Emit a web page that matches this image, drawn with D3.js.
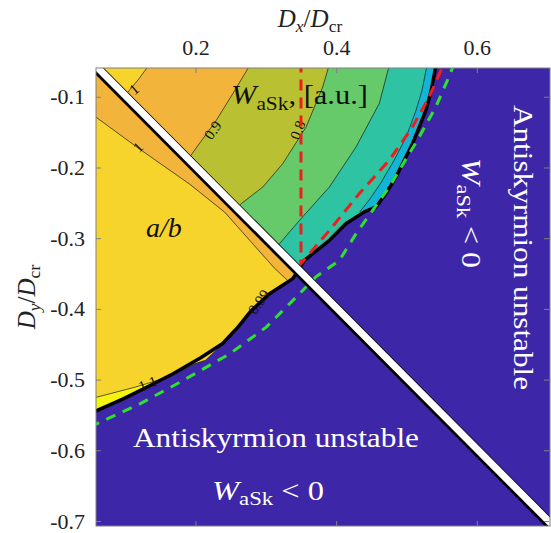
<!DOCTYPE html>
<html>
<head>
<meta charset="utf-8">
<script src="https://cdn.jsdelivr.net/npm/d3@7"></script>
<style>
body { margin: 0; background: #fff; }
svg { display: block; }
text { font-family: "Liberation Serif", "DejaVu Serif", serif; }
</style>
</head>
<body>
<svg id="chart" width="551" height="533"></svg>
<script>
// values, in units of D_cr
const xTicks = [0.2, 0.4, 0.6];
const yTicks = [-0.1, -0.2, -0.3, -0.4, -0.5, -0.6, -0.7];

// W_aSk contours (triangle above the Dy = -Dx line)
const wLevel1 = [[0.1352, -0.0537], [0.1182, -0.0763], [0.1040, -0.0933], [0.0898, -0.1103]];
const wLevel09 = [[0.2784, -0.0537], [0.2533, -0.0952], [0.2298, -0.1330], [0.1919, -0.1850], [0.1777, -0.2010]];
const wLevel08 = [[0.3905, -0.0537], [0.3810, -0.0858], [0.3574, -0.1425], [0.3243, -0.1943],
    [0.2959, -0.2275], [0.2652, -0.2510], [0.2487, -0.2676]];
const wLevel07 = [[0.4760, -0.0537], [0.4614, -0.1093], [0.4284, -0.1708], [0.3905, -0.2275],
    [0.3480, -0.2747], [0.3196, -0.3077], [0.3050, -0.3250]];
const wLevel06 = [[0.5295, -0.0537], [0.5222, -0.0905], [0.5137, -0.1188], [0.4996, -0.1567],
    [0.4825, -0.1897], [0.4630, -0.2227], [0.4467, -0.2463], [0.4335, -0.2629]];

// stability edge (thick black staircase)
const boundary = [
    [0.5423, -0.0537], [0.5348, -0.0929], [0.5277, -0.1188], [0.5182, -0.1425], [0.5087, -0.1660],
    [0.4969, -0.1897], [0.4851, -0.2133], [0.4709, -0.2368], [0.4567, -0.2558], [0.4401, -0.2629],
    [0.4142, -0.2793], [0.3905, -0.3030], [0.3668, -0.3218], [0.3550, -0.3313], [0.3479, -0.3426],
    [0.3384, -0.3572], [0.3053, -0.3785], [0.2784, -0.4035], [0.2614, -0.4248], [0.2387, -0.4489],
    [0.2075, -0.4690], [0.1682, -0.4918], [0.1305, -0.5108], [0.0973, -0.5272], [0.0596, -0.5438],
    [0.0501, -0.5480]];

// a/b contours (triangle below the Dy = -Dx line)
const abLevel1 = [[0.05, -0.122], [0.0586, -0.1288], [0.1167, -0.1712], [0.1919, -0.2237], [0.2416, -0.2633],
    [0.2770, -0.3030], [0.3125, -0.3426], [0.3338, -0.3625]];
const abLevel11 = [[0.05, -0.527], [0.0596, -0.5249], [0.1139, -0.5108], [0.1611, -0.4966], [0.1990, -0.4776],
    [0.2132, -0.4729]];

// dashed guides
const redGuide = [[0.35, -0.05], [0.35, -0.336], [0.3905, -0.2889], [0.4330, -0.2368], [0.4756, -0.1897],
    [0.5087, -0.1425], [0.5323, -0.1000], [0.5535, -0.053]];
const greenGuide = [[0.05, -0.567], [0.0594, -0.5626], [0.1210, -0.5343], [0.1824, -0.5013], [0.2487, -0.4635],
    [0.3007, -0.4258], [0.3433, -0.3833], [0.3716, -0.3544], [0.4047, -0.3313], [0.4284, -0.2935],
    [0.4756, -0.2275], [0.5182, -0.1567], [0.5418, -0.1142], [0.5583, -0.0765], [0.568, -0.053]];

// contour labels: text, Dx, Dy, angle
const clabels = [
    ['1', 0.1126, -0.0892, -40], ['0.9', 0.2245, -0.1472, -55], ['0.8', 0.3451, -0.1472, -68],
    ['1', 0.1182, -0.1712, -45], ['1.1', 0.1323, -0.5056, -22], ['0.99', 0.2900, -0.3900, -55]
];

const xDomain = [0.0586, 0.7026];
const yDomain = [-0.7071, -0.0593];

let svg = d3.select('#chart');
let margin = { top: 68, left: 96, right: 1, bottom: 7 };
let width = 551 - margin.left - margin.right,
    height = 533 - margin.top - margin.bottom;

let x = d3.scaleLinear().domain(xDomain).range([margin.left, margin.left + width - 1]);
let y = d3.scaleLinear().domain(yDomain).range([margin.top + height, margin.top]);
let line = d3.line().x(d => x(d[0])).y(d => y(d[1]));

let x0 = xDomain[0] - 0.02, x1 = xDomain[1] + 0.02,
    yTop = yDomain[1] + 0.02, yBot = yDomain[0] - 0.02;

let defs = svg.append('defs');
defs.append('clipPath').attr('id', 'plot')
    .append('rect').attr('x', margin.left).attr('y', margin.top)
    .attr('width', width).attr('height', height);
defs.append('clipPath').attr('id', 'upper')
    .append('path').attr('d', line([[x0, yTop], [x1, yTop], [x1, -x1], [x0, -x0]]) + 'Z');
defs.append('clipPath').attr('id', 'lower')
    .append('path').attr('d', line([[x0, -x0], [x1, -x1], [x1, yBot], [x0, yBot]]) + 'Z');

let plot = svg.append('g').attr('clip-path', 'url(#plot)');
plot.append('rect').attr('x', margin.left).attr('y', margin.top)
    .attr('width', width).attr('height', height).style('fill', '#3e26a8');

// close a contour towards the top-left corner
let upperFill = pts => pts.concat([[x0, pts[pts.length - 1][1]], [x0, yTop], [pts[0][0], yTop]]);
let lowerFill = pts => [[x0, pts[0][1]]].concat(pts, [[pts[pts.length - 1][0], yTop], [x0, yTop]]);

let upper = plot.append('g').attr('clip-path', 'url(#upper)');
let upperBands = [
    [boundary.slice(0, 16), '#13b5d6'],
    [wLevel06.concat(boundary.slice(10, 16)), '#2ec3a2'],
    [wLevel07, '#66c96a'],
    [wLevel08, '#b9c133'],
    [wLevel09, '#f3b43c'],
    [wLevel1, '#f6d42b']
];
upperBands.forEach(b => {
    upper.append('path').attr('d', line(upperFill(b[0])) + 'Z').style('fill', b[1]);
});
[wLevel06, wLevel07, wLevel08, wLevel09, wLevel1].forEach(c => {
    upper.append('path').attr('d', line(c))
        .style('fill', 'none').style('stroke', '#1a1a1a').style('stroke-width', 0.7);
});

let lower = plot.append('g').attr('clip-path', 'url(#lower)');
let lowerBands = [
    [boundary.slice(13).reverse(), '#f5f410'],
    [abLevel11.concat(boundary.slice(13, 20).reverse()), '#f6d42b'],
    [abLevel1.concat(boundary.slice(13, 16).reverse()), '#f3b43c']
];
lowerBands.forEach(b => {
    lower.append('path').attr('d', line(lowerFill(b[0])) + 'Z').style('fill', b[1]);
});
[abLevel1, abLevel11].forEach(c => {
    lower.append('path').attr('d', line(c))
        .style('fill', 'none').style('stroke', '#1a1a1a').style('stroke-width', 0.7);
});

plot.append('path').attr('d', line(boundary))
    .style('fill', 'none').style('stroke', '#000').style('stroke-width', 3.5)
    .style('stroke-linejoin', 'round');

clabels.forEach(l => {
    plot.append('text').text(l[0])
        .attr('transform', `translate(${x(l[1])},${y(l[2])}) rotate(${l[3]})`)
        .attr('text-anchor', 'middle').attr('dy', '0.35em')
        .style('font-size', '15px').style('fill', '#111');
});

// dashed guides
plot.append('path').attr('d', line(greenGuide))
    .style('fill', 'none').style('stroke', '#2fe02f').style('stroke-width', 3)
    .style('stroke-dasharray', '10,8');
plot.append('path').attr('d', line(redGuide))
    .style('fill', 'none').style('stroke', '#f01d1d').style('stroke-width', 3)
    .style('stroke-dasharray', '11,7');

// |Dx| = |Dy| line
let diag = [[x0, -x0], [x1, -x1]];
plot.append('path').attr('d', line(diag))
    .style('stroke', '#000').style('stroke-width', 10.5);
plot.append('path').attr('d', line(diag)).attr('transform', 'translate(0.7,-0.7)')
    .style('stroke', '#fff').style('stroke-width', 7);

// math text with subscripts
let mathText = (g, parts, size, color) => {
    let t = g.append('text').style('font-size', size + 'px').style('fill', color);
    let shifted = false;
    parts.forEach(p => {
        let s = t.append('tspan').text(p.t)
            .style('font-style', p.it ? 'italic' : 'normal')
            .style('font-size', (p.sub ? size * 0.7 : size) + 'px');
        if (p.sub && !shifted) { s.attr('dy', size * 0.2); shifted = true; }
        if (!p.sub && shifted) { s.attr('dy', -size * 0.2); shifted = false; }
    });
    return t;
};

let wParts = [{ t: 'W', it: 1 }, { t: 'aSk', sub: 1 }];

mathText(plot, wParts.concat([{ t: ', [a.u.]' }]), 28, '#111')
    .attr('x', 231).attr('y', 104)
    .attr('textLength', 137).attr('lengthAdjust', 'spacingAndGlyphs');
mathText(plot, [{ t: 'a/b', it: 1 }], 28, '#111')
    .attr('x', 146).attr('y', 237);

plot.append('text').text('Antiskyrmion unstable')
    .attr('x', 133).attr('y', 447)
    .attr('textLength', 286).attr('lengthAdjust', 'spacingAndGlyphs')
    .style('font-size', '28px').style('fill', '#fff');
mathText(plot, wParts.concat([{ t: ' < 0' }]), 27, '#fff')
    .attr('x', 212).attr('y', 500)
    .attr('textLength', 112).attr('lengthAdjust', 'spacingAndGlyphs');

plot.append('text').text('Antiskyrmion unstable')
    .attr('transform', 'translate(514,105) rotate(90)')
    .attr('textLength', 285).attr('lengthAdjust', 'spacingAndGlyphs')
    .style('font-size', '28px').style('fill', '#fff');
mathText(plot, wParts.concat([{ t: ' < 0' }]), 27, '#fff')
    .attr('transform', 'translate(462,158) rotate(90)')
    .attr('textLength', 110).attr('lengthAdjust', 'spacingAndGlyphs');

// frame and ticks
let frame = svg.append('g');
frame.append('rect').attr('x', margin.left).attr('y', margin.top)
    .attr('width', width).attr('height', height)
    .style('fill', 'none').style('stroke', '#808080').style('stroke-width', 1);

let fmt = d => d.toFixed(1);
frame.append('g').attr('transform', `translate(0,${margin.top})`)
    .call(d3.axisTop(x).tickValues(xTicks).tickSize(-5).tickPadding(13).tickFormat(fmt))
    .call(g => g.select('.domain').remove());
frame.append('g').attr('transform', `translate(0,${margin.top + height})`)
    .call(d3.axisBottom(x).tickValues(xTicks).tickSize(-5).tickFormat(''))
    .call(g => g.select('.domain').remove());
frame.append('g').attr('transform', `translate(${margin.left},0)`)
    .call(d3.axisLeft(y).tickValues(yTicks).tickSize(-5).tickPadding(11).tickFormat(fmt))
    .call(g => g.select('.domain').remove());
frame.append('g').attr('transform', `translate(${margin.left + width - 1},0)`)
    .call(d3.axisRight(y).tickValues(yTicks).tickSize(-5).tickFormat(''))
    .call(g => g.select('.domain').remove());

frame.selectAll('.tick line').style('stroke', '#808080');
frame.selectAll('.tick text')
    .style('font-family', '"Liberation Serif", serif').style('font-size', '22px').style('fill', '#222');

mathText(svg, [{ t: 'D', it: 1 }, { t: 'x', it: 1, sub: 1 }, { t: '/' }, { t: 'D', it: 1 }, { t: 'cr', sub: 1 }], 25, '#222')
    .attr('x', 310).attr('y', 27).attr('text-anchor', 'middle');
mathText(svg, [{ t: 'D', it: 1 }, { t: 'y', it: 1, sub: 1 }, { t: '/' }, { t: 'D', it: 1 }, { t: 'cr', sub: 1 }], 25, '#222')
    .attr('transform', 'translate(35,297) rotate(-90)').attr('text-anchor', 'middle');
</script>
</body>
</html>
